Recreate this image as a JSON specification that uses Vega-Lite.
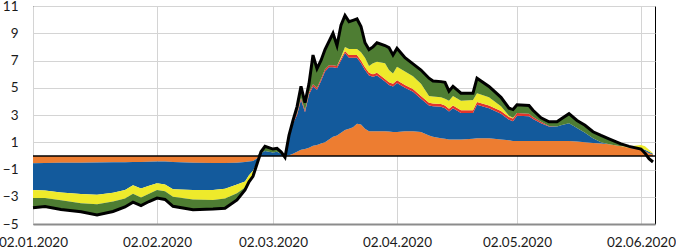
{
  "$schema": "https://vega.github.io/schema/vega-lite/v6.json",
  "width": 622,
  "height": 218,
  "autosize": {"type": "none"},
  "padding": {"left": 33, "top": 6, "right": 21, "bottom": 26},
  "config": {
    "view": {"stroke": "#000", "strokeWidth": 1},
    "axis": {"labelFont": "Lato", "labelFontSize": 13.5, "labelColor": "#1a1a1a", "gridColor": "#d4d4d4", "gridWidth": 1, "ticks": false, "title": null, "labelOverlap": false}
  },
  "data": {"values": [
    {"date": "2020-01-02", "s1": -0.54, "s2": -1.96, "s3": 0, "s4": -0.6, "s5": -0.7, "total": -3.8},
    {"date": "2020-01-05", "s1": -0.52, "s2": -2.03, "s3": 0, "s4": -0.55, "s5": -0.62, "total": -3.72},
    {"date": "2020-01-09", "s1": -0.5, "s2": -2.18, "s3": 0, "s4": -0.58, "s5": -0.68, "total": -3.94},
    {"date": "2020-01-14", "s1": -0.5, "s2": -2.3, "s3": 0, "s4": -0.67, "s5": -0.63, "total": -4.1},
    {"date": "2020-01-18", "s1": -0.48, "s2": -2.38, "s3": 0, "s4": -0.69, "s5": -0.78, "total": -4.33},
    {"date": "2020-01-22", "s1": -0.47, "s2": -2.23, "s3": 0, "s4": -0.65, "s5": -0.73, "total": -4.08},
    {"date": "2020-01-25", "s1": -0.46, "s2": -2.04, "s3": 0, "s4": -0.63, "s5": -0.62, "total": -3.75},
    {"date": "2020-01-27", "s1": -0.45, "s2": -1.7, "s3": 0, "s4": -0.63, "s5": -0.62, "total": -3.4},
    {"date": "2020-01-29", "s1": -0.45, "s2": -1.95, "s3": 0, "s4": -0.65, "s5": -0.6, "total": -3.65},
    {"date": "2020-01-31", "s1": -0.43, "s2": -1.77, "s3": 0, "s4": -0.58, "s5": -0.57, "total": -3.35},
    {"date": "2020-02-02", "s1": -0.42, "s2": -1.58, "s3": 0, "s4": -0.5, "s5": -0.6, "total": -3.1},
    {"date": "2020-02-04", "s1": -0.42, "s2": -1.68, "s3": 0, "s4": -0.5, "s5": -0.6, "total": -3.2},
    {"date": "2020-02-06", "s1": -0.45, "s2": -2.0, "s3": 0, "s4": -0.55, "s5": -0.7, "total": -3.7},
    {"date": "2020-02-11", "s1": -0.5, "s2": -2.0, "s3": 0, "s4": -0.7, "s5": -0.76, "total": -3.96},
    {"date": "2020-02-16", "s1": -0.52, "s2": -1.98, "s3": 0, "s4": -0.73, "s5": -0.67, "total": -3.9},
    {"date": "2020-02-19", "s1": -0.53, "s2": -1.89, "s3": 0, "s4": -0.7, "s5": -0.72, "total": -3.84},
    {"date": "2020-02-22", "s1": -0.5, "s2": -1.6, "s3": 0, "s4": -0.64, "s5": -0.49, "total": -3.23},
    {"date": "2020-02-24", "s1": -0.45, "s2": -1.43, "s3": 0, "s4": -0.45, "s5": -0.17, "total": -2.5},
    {"date": "2020-02-25", "s1": -0.42, "s2": -1.0, "s3": 0, "s4": -0.35, "s5": -0.13, "total": -1.9},
    {"date": "2020-02-26", "s1": -0.38, "s2": -0.72, "s3": 0, "s4": -0.3, "s5": -0.1, "total": -1.5},
    {"date": "2020-02-27", "s1": -0.2, "s2": -0.3, "s3": 0, "s4": -0.1, "s5": 0, "total": -0.6},
    {"date": "2020-02-28", "s1": 0, "s2": 0.2, "s3": 0, "s4": 0, "s5": 0.1, "total": 0.3},
    {"date": "2020-02-29", "s1": 0, "s2": 0.35, "s3": 0, "s4": 0, "s5": 0.35, "total": 0.7},
    {"date": "2020-03-02", "s1": 0, "s2": 0.25, "s3": 0, "s4": 0, "s5": 0.25, "total": 0.5},
    {"date": "2020-03-03", "s1": 0, "s2": 0.3, "s3": 0, "s4": 0, "s5": 0.25, "total": 0.55},
    {"date": "2020-03-04", "s1": 0, "s2": 0.15, "s3": 0, "s4": 0, "s5": 0.15, "total": 0.3},
    {"date": "2020-03-05", "s1": 0, "s2": -0.05, "s3": 0, "s4": 0, "s5": -0.05, "total": -0.1},
    {"date": "2020-03-06", "s1": 0.05, "s2": 1.25, "s3": 0.05, "s4": 0, "s5": 0.15, "total": 1.5},
    {"date": "2020-03-07", "s1": 0.15, "s2": 2.2, "s3": 0.1, "s4": 0, "s5": 0.15, "total": 2.6},
    {"date": "2020-03-08", "s1": 0.3, "s2": 2.7, "s3": 0.15, "s4": 0, "s5": 0.45, "total": 3.6},
    {"date": "2020-03-09", "s1": 0.45, "s2": 3.65, "s3": 0.15, "s4": 0, "s5": 0.85, "total": 5.1},
    {"date": "2020-03-10", "s1": 0.5, "s2": 2.7, "s3": 0.15, "s4": 0, "s5": 0.55, "total": 3.9},
    {"date": "2020-03-11", "s1": 0.6, "s2": 3.9, "s3": 0.15, "s4": 0, "s5": 0.65, "total": 5.3},
    {"date": "2020-03-12", "s1": 0.75, "s2": 4.35, "s3": 0.15, "s4": 0, "s5": 2.15, "total": 7.4},
    {"date": "2020-03-13", "s1": 0.8, "s2": 4.05, "s3": 0.15, "s4": 0, "s5": 1.4, "total": 6.4},
    {"date": "2020-03-14", "s1": 0.9, "s2": 4.6, "s3": 0.15, "s4": 0, "s5": 1.35, "total": 7.0},
    {"date": "2020-03-15", "s1": 1.0, "s2": 5.2, "s3": 0.15, "s4": 0, "s5": 1.45, "total": 7.8},
    {"date": "2020-03-16", "s1": 1.2, "s2": 5.3, "s3": 0.15, "s4": 0, "s5": 1.75, "total": 8.4},
    {"date": "2020-03-17", "s1": 1.4, "s2": 5.1, "s3": 0.15, "s4": 0, "s5": 2.35, "total": 9.0},
    {"date": "2020-03-18", "s1": 1.5, "s2": 4.95, "s3": 0.15, "s4": 0, "s5": 1.5, "total": 8.1},
    {"date": "2020-03-19", "s1": 1.7, "s2": 5.3, "s3": 0.15, "s4": 0.1, "s5": 2.35, "total": 9.6},
    {"date": "2020-03-20", "s1": 1.9, "s2": 5.65, "s3": 0.15, "s4": 0.3, "s5": 2.3, "total": 10.3},
    {"date": "2020-03-21", "s1": 2.0, "s2": 5.2, "s3": 0.2, "s4": 0.45, "s5": 2.0, "total": 9.85},
    {"date": "2020-03-22", "s1": 2.1, "s2": 5.1, "s3": 0.2, "s4": 0.45, "s5": 2.1, "total": 9.95},
    {"date": "2020-03-23", "s1": 2.35, "s2": 4.85, "s3": 0.2, "s4": 0.45, "s5": 2.2, "total": 10.05},
    {"date": "2020-03-24", "s1": 2.3, "s2": 4.5, "s3": 0.2, "s4": 0.6, "s5": 1.9, "total": 9.5},
    {"date": "2020-03-25", "s1": 2.0, "s2": 4.3, "s3": 0.2, "s4": 0.7, "s5": 1.1, "total": 8.3},
    {"date": "2020-03-26", "s1": 1.8, "s2": 4.1, "s3": 0.2, "s4": 0.5, "s5": 1.2, "total": 7.8},
    {"date": "2020-03-27", "s1": 1.8, "s2": 4.0, "s3": 0.2, "s4": 0.8, "s5": 1.2, "total": 8.0},
    {"date": "2020-03-28", "s1": 1.8, "s2": 4.1, "s3": 0.2, "s4": 0.8, "s5": 1.4, "total": 8.3},
    {"date": "2020-03-30", "s1": 1.8, "s2": 3.65, "s3": 0.2, "s4": 1.15, "s5": 1.3, "total": 8.1},
    {"date": "2020-03-31", "s1": 1.78, "s2": 3.42, "s3": 0.2, "s4": 0.9, "s5": 1.65, "total": 7.95},
    {"date": "2020-04-01", "s1": 1.75, "s2": 3.35, "s3": 0.2, "s4": 0.75, "s5": 1.35, "total": 7.4},
    {"date": "2020-04-02", "s1": 1.75, "s2": 3.6, "s3": 0.2, "s4": 1.0, "s5": 1.35, "total": 7.9},
    {"date": "2020-04-04", "s1": 1.8, "s2": 3.2, "s3": 0.2, "s4": 1.0, "s5": 1.0, "total": 7.2},
    {"date": "2020-04-06", "s1": 1.8, "s2": 2.9, "s3": 0.2, "s4": 0.95, "s5": 0.9, "total": 6.75},
    {"date": "2020-04-08", "s1": 1.75, "s2": 2.45, "s3": 0.2, "s4": 0.9, "s5": 1.0, "total": 6.3},
    {"date": "2020-04-10", "s1": 1.5, "s2": 2.2, "s3": 0.2, "s4": 0.5, "s5": 1.3, "total": 5.7},
    {"date": "2020-04-11", "s1": 1.4, "s2": 2.25, "s3": 0.2, "s4": 0.5, "s5": 1.15, "total": 5.5},
    {"date": "2020-04-13", "s1": 1.3, "s2": 2.3, "s3": 0.2, "s4": 0.5, "s5": 1.15, "total": 5.45},
    {"date": "2020-04-14", "s1": 1.25, "s2": 2.25, "s3": 0.2, "s4": 0.5, "s5": 1.2, "total": 5.4},
    {"date": "2020-04-15", "s1": 1.2, "s2": 2.05, "s3": 0.2, "s4": 0.6, "s5": 0.7, "total": 4.75},
    {"date": "2020-04-16", "s1": 1.2, "s2": 2.3, "s3": 0.2, "s4": 0.7, "s5": 0.7, "total": 5.1},
    {"date": "2020-04-18", "s1": 1.2, "s2": 1.95, "s3": 0.2, "s4": 0.7, "s5": 0.55, "total": 4.6},
    {"date": "2020-04-21", "s1": 1.25, "s2": 1.9, "s3": 0.2, "s4": 0.75, "s5": 0.5, "total": 4.6},
    {"date": "2020-04-22", "s1": 1.3, "s2": 2.45, "s3": 0.2, "s4": 0.65, "s5": 1.1, "total": 5.7},
    {"date": "2020-04-25", "s1": 1.3, "s2": 2.2, "s3": 0.2, "s4": 0.6, "s5": 0.8, "total": 5.1},
    {"date": "2020-04-28", "s1": 1.2, "s2": 1.9, "s3": 0.2, "s4": 0.35, "s5": 0.65, "total": 4.3},
    {"date": "2020-04-30", "s1": 1.15, "s2": 1.5, "s3": 0.2, "s4": 0.1, "s5": 0.55, "total": 3.5},
    {"date": "2020-05-01", "s1": 1.1, "s2": 1.45, "s3": 0.2, "s4": 0.05, "s5": 0.6, "total": 3.4},
    {"date": "2020-05-02", "s1": 1.1, "s2": 1.85, "s3": 0.2, "s4": 0, "s5": 0.6, "total": 3.75},
    {"date": "2020-05-05", "s1": 1.1, "s2": 1.8, "s3": 0.2, "s4": 0, "s5": 0.6, "total": 3.7},
    {"date": "2020-05-06", "s1": 1.1, "s2": 1.6, "s3": 0.15, "s4": 0, "s5": 0.5, "total": 3.35},
    {"date": "2020-05-08", "s1": 1.1, "s2": 1.3, "s3": 0.1, "s4": 0, "s5": 0.3, "total": 2.8},
    {"date": "2020-05-10", "s1": 1.1, "s2": 1.05, "s3": 0.05, "s4": 0, "s5": 0.3, "total": 2.5},
    {"date": "2020-05-12", "s1": 1.1, "s2": 1.05, "s3": 0, "s4": 0, "s5": 0.35, "total": 2.5},
    {"date": "2020-05-13", "s1": 1.1, "s2": 1.15, "s3": 0, "s4": 0, "s5": 0.45, "total": 2.7},
    {"date": "2020-05-15", "s1": 1.1, "s2": 1.3, "s3": 0, "s4": 0, "s5": 0.7, "total": 3.1},
    {"date": "2020-05-17", "s1": 1.05, "s2": 1.0, "s3": 0, "s4": 0, "s5": 0.55, "total": 2.6},
    {"date": "2020-05-19", "s1": 1.0, "s2": 0.7, "s3": 0, "s4": 0, "s5": 0.55, "total": 2.25},
    {"date": "2020-05-21", "s1": 0.95, "s2": 0.35, "s3": 0, "s4": 0, "s5": 0.47, "total": 1.77},
    {"date": "2020-05-23", "s1": 0.9, "s2": 0.1, "s3": 0, "s4": 0, "s5": 0.5, "total": 1.5},
    {"date": "2020-05-25", "s1": 0.85, "s2": 0, "s3": 0, "s4": 0, "s5": 0.4, "total": 1.25},
    {"date": "2020-05-28", "s1": 0.7, "s2": 0, "s3": 0, "s4": 0, "s5": 0.18, "total": 0.88},
    {"date": "2020-05-30", "s1": 0.6, "s2": 0, "s3": 0, "s4": 0.1, "s5": 0, "total": 0.7},
    {"date": "2020-06-02", "s1": 0.45, "s2": 0.1, "s3": 0, "s4": 0.25, "s5": 0, "total": 0.5},
    {"date": "2020-06-03", "s1": 0.35, "s2": 0.1, "s3": 0, "s4": 0.25, "s5": 0, "total": 0.2},
    {"date": "2020-06-04", "s1": 0.2, "s2": 0.1, "s3": 0, "s4": 0.15, "s5": 0, "total": -0.2},
    {"date": "2020-06-05", "s1": 0.1, "s2": 0.05, "s3": 0, "s4": 0.05, "s5": 0, "total": -0.45}
  ]},
  "layer": [
    {
      "transform": [{"fold": ["s1", "s2", "s3", "s4", "s5"], "as": ["series", "value"]}],
      "mark": {"type": "area", "interpolate": "linear"},
      "encoding": {
        "x": {
          "field": "date", "type": "temporal",
          "scale": {"type": "utc", "domain": [{"year": 2020, "month": 1, "date": 2, "utc": true}, {"year": 2020, "month": 6, "date": 5, "hours": 12, "utc": true}]},
          "axis": {
            "values": [
              {"year": 2020, "month": 1, "date": 2, "utc": true},
              {"year": 2020, "month": 2, "date": 2, "utc": true},
              {"year": 2020, "month": 3, "date": 2, "utc": true},
              {"year": 2020, "month": 4, "date": 2, "utc": true},
              {"year": 2020, "month": 5, "date": 2, "utc": true},
              {"year": 2020, "month": 6, "date": 2, "utc": true}
            ],
            "tickCount": 20,
            "labelExpr": "utcFormat(datum.value, '%d.%m.%Y')",
            "grid": true, "domain": true, "domainColor": "#8c8c8c", "domainWidth": 2,
            "labelPadding": 11, "labelFlush": false, "labelOverlap": false
          }
        },
        "y": {
          "field": "value", "type": "quantitative", "stack": "zero",
          "scale": {"domain": [-5, 11], "nice": false, "zero": false},
          "axis": {"values": [-5, -3, -1, 1, 3, 5, 7, 9, 11], "tickCount": 20, "grid": true, "domain": false, "labelPadding": 15, "labelOverlap": false, "labelBound": false}
        },
        "color": {
          "field": "series", "type": "nominal",
          "scale": {"domain": ["s1", "s2", "s3", "s4", "s5"], "range": ["#ED7D31", "#135A9C", "#E2342C", "#EEEA2B", "#4E7D33"]},
          "legend": null
        },
        "order": {"field": "series", "type": "nominal"}
      }
    },
    {
      "data": {"values": [{}]},
      "mark": {"type": "rule", "color": "#000", "strokeWidth": 1.5},
      "encoding": {"y": {"datum": 0}}
    },
    {
      "mark": {"type": "line", "color": "#000", "strokeWidth": 3},
      "encoding": {
        "x": {"field": "date", "type": "temporal", "axis": {
            "values": [
              {"year": 2020, "month": 1, "date": 2, "utc": true},
              {"year": 2020, "month": 2, "date": 2, "utc": true},
              {"year": 2020, "month": 3, "date": 2, "utc": true},
              {"year": 2020, "month": 4, "date": 2, "utc": true},
              {"year": 2020, "month": 5, "date": 2, "utc": true},
              {"year": 2020, "month": 6, "date": 2, "utc": true}
            ],
            "tickCount": 20,
            "labelExpr": "utcFormat(datum.value, '%d.%m.%Y')",
            "grid": true, "domain": true, "domainColor": "#8c8c8c", "domainWidth": 2,
            "labelPadding": 11, "labelFlush": false, "labelOverlap": false
          }},
        "y": {"field": "total", "type": "quantitative", "axis": {"values": [-5, -3, -1, 1, 3, 5, 7, 9, 11], "tickCount": 20, "grid": true, "domain": false, "labelPadding": 15, "labelOverlap": false, "labelBound": false}}
      }
    }
  ]
}
